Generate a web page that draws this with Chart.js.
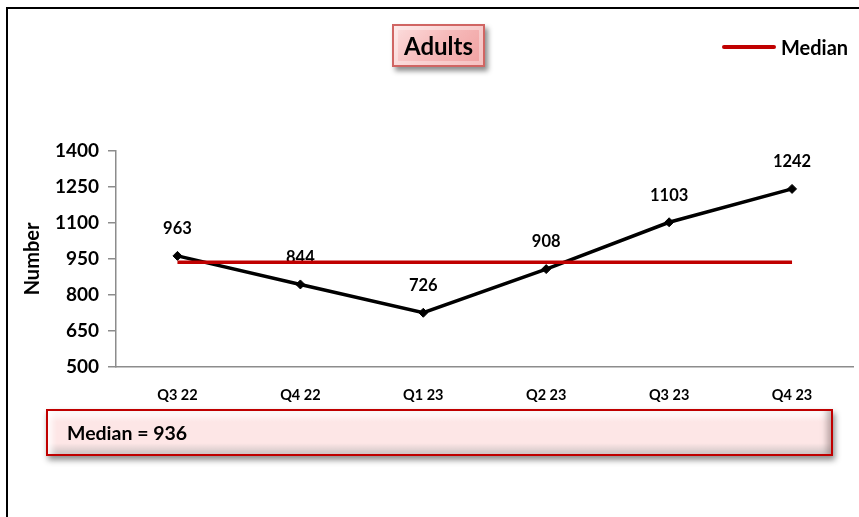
<!DOCTYPE html>
<html>
<head>
<meta charset="utf-8">
<script src="https://cdn.jsdelivr.net/npm/chart.js@4.4.0/dist/chart.umd.min.js"></script>
<style>
  html, body { margin:0; padding:0; background:#fff; }
  body { width:859px; height:517px; position:relative; overflow:hidden; font-family: Lato, "Liberation Sans", sans-serif; }
  #frame { position:absolute; left:6px; top:7px; width:870px; height:530px; border-left:2px solid #000; border-top:2px solid #000; }
  #wrap { position:absolute; left:0; top:0; width:859px; height:517px; }
  .box { position:absolute; box-sizing:border-box; font-weight:bold; color:#000; }
  #titleBox { left:392px; top:24px; width:93px; height:43px; border:2px solid #d06563;
    background: linear-gradient(135deg, #fcdede 0%, #f6b9b9 50%, #f0a0a0 100%);
    box-shadow: 3px 4px 5px rgba(0,0,0,0.45), inset 0 0 0 4px rgba(255,255,255,0.35);
    font-size:24px; text-align:center; line-height:39px; }
  #medBox { left:46px; top:409px; width:787px; height:47px; border:2px solid #c00000;
    background: linear-gradient(180deg, #ffffff 0%, #fde6e6 25%, #fde6e6 75%, #cfc5c5 100%);
    box-shadow: 2px 4px 6px rgba(0,0,0,0.45), inset 8px 0 6px -4px rgba(255,255,255,0.9), inset -8px 0 6px -4px rgba(120,100,100,0.5);
    font-size:19.5px; line-height:43px; padding-left:19px; }
  #legend { position:absolute; left:722px; top:36px; height:22px; display:flex; align-items:center; font-weight:bold; font-size:20px; }
  #legend .ln { width:54px; height:4px; background:#c00000; border-radius:2px; margin-right:5px; }
</style>
</head>
<body>
<div id="frame"></div>
<div id="wrap"><canvas id="c" width="859" height="517"></canvas></div>
<div class="box" id="titleBox">Adults</div>
<div id="legend"><div class="ln"></div><span>Median</span></div>
<div class="box" id="medBox">Median = 936</div>
<script>
const categories = ["Q3 22", "Q4 22", "Q1 23", "Q2 23", "Q3 23", "Q4 23"];
const adults = [963, 844, 726, 908, 1103, 1242];
const medianValue = 936;
const medianLine = [936, 936, 936, 936, 936, 936];
const yMin = 500, yMax = 1400, yStep = 150;

const FONT = 'Lato, "Liberation Sans", sans-serif';

const labelPlugin = {
  id: 'pointLabels',
  afterDatasetDraw(chart, args) {
    if (args.index !== 0) return;
    const ctx = chart.ctx;
    const meta = args.meta;
    ctx.save();
    ctx.font = 'bold 16.5px ' + FONT;
    ctx.fillStyle = '#000';
    ctx.textAlign = 'center';
    ctx.textBaseline = 'middle';
    meta.data.forEach((pt, i) => {
      ctx.fillText(String(adults[i]), pt.x, pt.y - 27);
    });
    ctx.restore();
  }
};

new Chart(document.getElementById('c'), {
  type: 'line',
  data: {
    labels: categories,
    datasets: [
      {
        label: 'Adults',
        data: adults,
        borderColor: '#000',
        backgroundColor: '#000',
        borderWidth: 3.5,
        pointStyle: 'rectRot',
        pointRadius: 4.5,
        pointBorderWidth: 1,
        tension: 0,
        order: 1
      },
      {
        label: 'Median',
        data: medianLine,
        borderColor: '#c00000',
        backgroundColor: '#c00000',
        borderWidth: 3.5,
        pointRadius: 0,
        tension: 0,
        order: 0
      }
    ]
  },
  plugins: [labelPlugin],
  options: {
    responsive: false,
    animation: false,
    layout: { padding: { left: 0, right: 4, top: 151, bottom: 115 } },
    plugins: { legend: { display: false }, tooltip: { enabled: false } },
    scales: {
      x: {
        offset: true,
        grid: { display: false },
        border: { display: true, color: '#8c8c8c', width: 1.5 },
        ticks: { color: '#000', font: { family: FONT, weight: 'bold', size: 14.5 }, padding: 12, maxRotation: 0 },
        afterFit(scale) { scale.height = 35; }
      },
      y: {
        min: yMin, max: yMax,
        ticks: { stepSize: yStep, color: '#000', font: { family: FONT, weight: 'bold', size: 19 }, padding: 9,
                 callback: (v) => String(v) },
        grid: { drawOnChartArea: false, drawTicks: true, tickLength: 8, color: '#8c8c8c', lineWidth: 1.5 },
        border: { display: true, color: '#8c8c8c', width: 1.5 },
        title: { display: true, text: 'Number', color: '#000', font: { family: FONT, weight: 'bold', size: 20 }, padding: { top: 21, bottom: 4 } },
        afterFit(scale) { scale.width = 116; }
      }
    }
  }
});
</script>
</body>
</html>
